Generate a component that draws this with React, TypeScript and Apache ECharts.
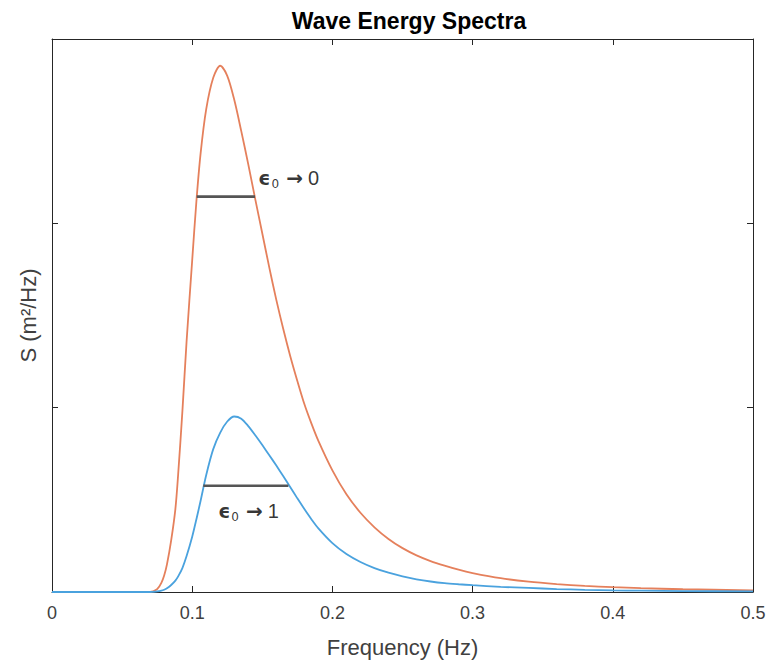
import React, { useEffect, useRef } from 'react';
import * as echarts from 'echarts';

// Frequency samples (Hz)
const freq = [
  0, 0.05, 0.07, 0.072, 0.075, 0.078, 0.08, 0.082, 0.085, 0.088,
  0.09, 0.093, 0.096, 0.1, 0.103, 0.106, 0.11, 0.115, 0.12, 0.125,
  0.13, 0.135, 0.14, 0.145, 0.15, 0.155, 0.16, 0.165, 0.17, 0.175,
  0.18, 0.185, 0.19, 0.2, 0.21, 0.22, 0.23, 0.24, 0.25, 0.26,
  0.27, 0.28, 0.29, 0.3, 0.32, 0.34, 0.36, 0.38, 0.4, 0.42,
  0.45, 0.5,
];

// Narrow-band spectrum (eps0 -> 0), orange
const sNarrow = [
  0, 0, 0, 0.003, 0.015, 0.05, 0.09, 0.15, 0.28, 0.45,
  0.64, 0.98, 1.36, 1.8, 2.12, 2.38, 2.62, 2.79, 2.855, 2.8,
  2.67, 2.5, 2.32, 2.13, 1.945, 1.76, 1.585, 1.425, 1.278, 1.145,
  1.02, 0.915, 0.82, 0.66, 0.53, 0.43, 0.351, 0.288, 0.238, 0.199,
  0.168, 0.143, 0.121, 0.103, 0.075, 0.056, 0.043, 0.033, 0.026, 0.021,
  0.015, 0.009,
];

// Broad-band spectrum (eps0 -> 1), blue
const sBroad = [
  0, 0, 0, 0.001, 0.003, 0.007, 0.012, 0.02, 0.038, 0.062,
  0.085, 0.13, 0.195, 0.3, 0.395, 0.495, 0.635, 0.775, 0.865, 0.925,
  0.952, 0.94, 0.9, 0.85, 0.797, 0.742, 0.686, 0.628, 0.568, 0.508,
  0.45, 0.395, 0.345, 0.265, 0.206, 0.163, 0.13, 0.105, 0.085, 0.069,
  0.057, 0.048, 0.042, 0.037, 0.028, 0.022, 0.016, 0.012, 0.009, 0.007,
  0.005, 0.003,
];

// Width markers
const narrowBarX = [0.1032, 0.1448];
const narrowBarY = 2.145;
const broadBarX = [0.1079, 0.1686];
const broadBarY = 0.576;

// Annotation anchors [x, y] and texts
const narrowLabelAt = [0.1472, 2.245];
const broadLabelAt = [0.1185, 0.44];
const narrowLabelLimit = '0';
const broadLabelLimit = '1';

const xMin = 0;
const xMax = 0.5;
const xStep = 0.1;
const yMin = 0;
const yMax = 3;
const yStep = 1;

const AXIS = '#262626';
const TEXT = '#404040';

export default function App() {
  const ref = useRef<HTMLDivElement>(null);

  useEffect(() => {
    if (!ref.current) return;
    const chart = echarts.init(ref.current, null, { renderer: 'svg' });

    const rich = {
      e: { fontFamily: 'DejaVu Sans', fontSize: 19, fontWeight: 'bold', color: '#000', lineHeight: 24, verticalAlign: 'middle' },
      s: { fontFamily: 'DejaVu Sans', fontSize: 12, color: '#000', lineHeight: 12, verticalAlign: 'bottom', padding: [0, 0, 0, 1] },
      a: { fontFamily: 'DejaVu Sans', fontSize: 20, fontWeight: 'bold', color: '#000', lineHeight: 24, verticalAlign: 'middle', padding: [0, 5, 0, 7] },
      t: { fontFamily: 'Liberation Sans', fontSize: 20, color: '#000', lineHeight: 24, verticalAlign: 'middle' },
    };

    const labelSeries = (at: number[], limit: string) => ({
      type: 'scatter',
      data: [at],
      symbolSize: 0,
      silent: true,
      z: 10,
      label: {
        show: true,
        position: 'right',
        distance: 0,
        formatter: `{e|ϵ}{s|0}{a|→}{t|${limit}}`,
        rich,
      },
    });

    const tickFmt = (v: number) => (v === 0 ? '0' : v.toFixed(1));

    chart.setOption({
      animation: false,
      backgroundColor: '#fff',
      title: {
        text: 'Wave Energy Spectra',
        left: 404,
        top: 4,
        textAlign: 'center',
        textStyle: { fontFamily: 'Liberation Sans', fontSize: 23, fontWeight: 'bold', color: '#000' },
      },
      grid: { left: 52, right: 20, top: 39, bottom: 71, show: false },
      xAxis: [
        {
          type: 'value',
          min: xMin,
          max: xMax,
          interval: xStep,
          name: 'Frequency (Hz)',
          nameLocation: 'middle',
          nameGap: 44,
          nameTextStyle: { fontFamily: 'Liberation Sans', fontSize: 22, color: TEXT },
          axisLine: { show: true, onZero: false, lineStyle: { color: AXIS, width: 1 } },
          axisTick: { show: true, inside: true, length: 6, lineStyle: { color: AXIS } },
          axisLabel: { formatter: tickFmt, fontFamily: 'Liberation Sans', fontSize: 18, color: TEXT, margin: 12 },
          splitLine: { show: false },
        },
        {
          type: 'value',
          position: 'top',
          min: xMin,
          max: xMax,
          interval: xStep,
          axisLine: { show: true, onZero: false, lineStyle: { color: AXIS, width: 1 } },
          axisTick: { show: true, inside: true, length: 6, lineStyle: { color: AXIS } },
          axisLabel: { show: false },
          splitLine: { show: false },
        },
      ],
      yAxis: [
        {
          type: 'value',
          min: yMin,
          max: yMax,
          interval: yStep,
          name: 'S (m²/Hz)',
          nameLocation: 'middle',
          nameGap: 13,
          nameTextStyle: { fontFamily: 'Liberation Sans', fontSize: 22, color: TEXT },
          axisLine: { show: true, onZero: false, lineStyle: { color: AXIS, width: 1 } },
          axisTick: { show: true, inside: true, length: 6, lineStyle: { color: AXIS } },
          axisLabel: { show: false },
          splitLine: { show: false },
        },
        {
          type: 'value',
          position: 'right',
          min: yMin,
          max: yMax,
          interval: yStep,
          axisLine: { show: true, onZero: false, lineStyle: { color: AXIS, width: 1 } },
          axisTick: { show: true, inside: true, length: 6, lineStyle: { color: AXIS } },
          axisLabel: { show: false },
          splitLine: { show: false },
        },
      ],
      series: [
        {
          type: 'line',
          data: freq.map((f, i) => [f, sNarrow[i]]),
          showSymbol: false,
          smooth: 0.3,
          lineStyle: { color: '#E5805C', width: 1.8 },
          z: 3,
        },
        {
          type: 'line',
          data: freq.map((f, i) => [f, sBroad[i]]),
          showSymbol: false,
          smooth: 0.3,
          lineStyle: { color: '#4AA2DE', width: 1.8 },
          z: 4,
        },
        {
          type: 'line',
          data: narrowBarX.map((x) => [x, narrowBarY]),
          showSymbol: false,
          lineStyle: { color: '#555', width: 2.6 },
          z: 5,
        },
        {
          type: 'line',
          data: broadBarX.map((x) => [x, broadBarY]),
          showSymbol: false,
          lineStyle: { color: '#555', width: 2.6 },
          z: 5,
        },
        labelSeries(narrowLabelAt, narrowLabelLimit),
        labelSeries(broadLabelAt, broadLabelLimit),
      ],
    });

    return () => chart.dispose();
  }, []);

  return (
    <div
      ref={ref}
      style={{ position: 'absolute', left: 0, top: 0, width: 773, height: 663, background: '#fff' }}
    />
  );
}
